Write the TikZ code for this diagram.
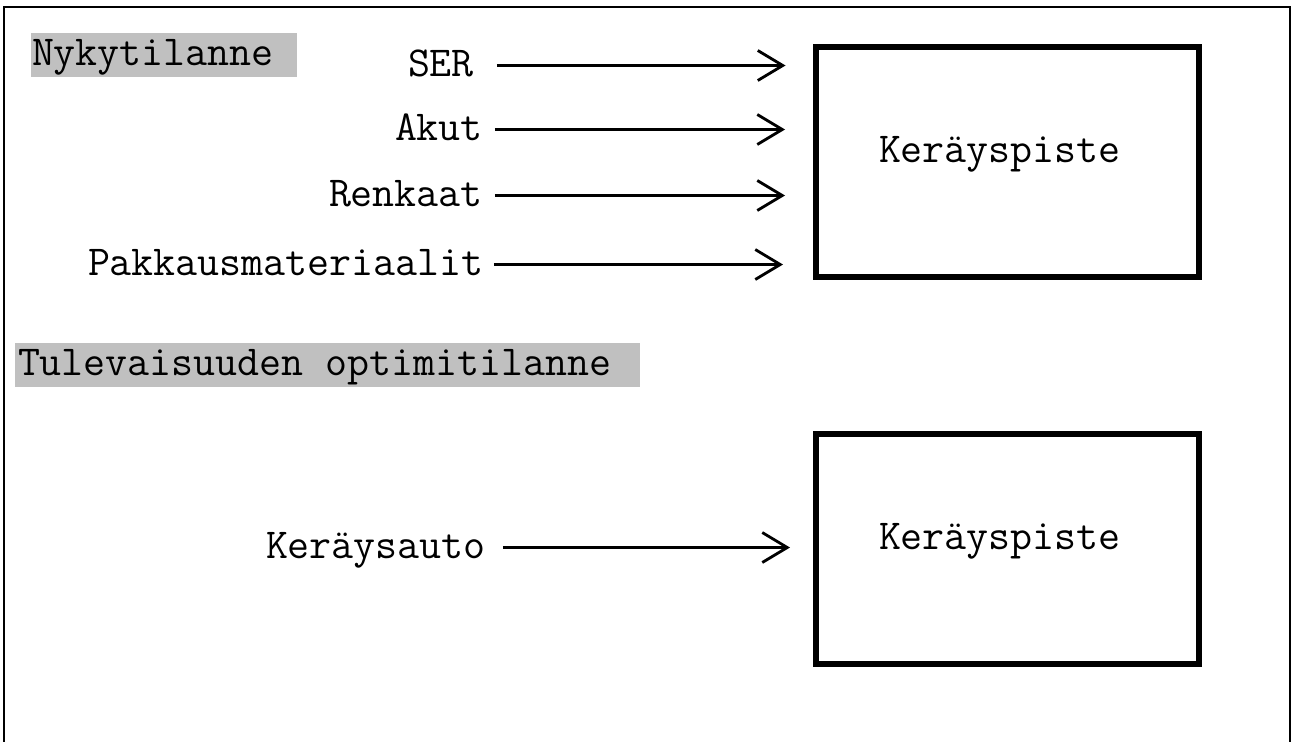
\documentclass[tikz,border=0pt]{standalone}
\usepackage{fontspec}
\usetikzlibrary{arrows.meta}
\definecolor{headgray}{RGB}{192,192,192}

\begin{document}
\begin{tikzpicture}[x=1pt,y=-1pt,
  every node/.style={font=\ttfamily\fontsize{42.7}{45}\selectfont, inner sep=0pt, outer sep=0pt},
  lbl/.style={anchor=base west, text height=21pt, text depth=0pt},
  head/.style={anchor=base west, fill=headgray, text height=32pt, text depth=12pt},
  flow/.style={line width=2.8pt, -{Straight Barb[length=25pt,width=30pt]}},
  stationbox/.style={draw, line width=6pt, minimum width=382.4pt, minimum height=230pt, anchor=north west},
]
\useasboundingbox (0,0) rectangle (1294,742);

% outer frame (open at the bottom edge of the page)
\draw[line width=1.5pt] (4,750) -- (4,7) -- (1290,7) -- (1290,750);

% section headings
\node[head] (nyky) at (31,65) {\makebox[266pt][l]{\hspace{1pt}Nykytilanne}};
\node[head] (tulev) at (15,375) {\makebox[625pt][l]{\hspace{3pt}Tulevaisuuden optimitilanne}};

% collection points
\node[stationbox] (box1) at (816.3,47) {};
\node[stationbox] (box2) at (816.3,434) {};
\node[anchor=base west] (kp1) at (879,162) {Keräyspiste};
\node[anchor=base west] (kp2) at (879,549) {Keräyspiste};

% incoming flows, current situation
\node[lbl] (ser) at (408,76) {SER};
\node[lbl] (akut) at (395,140) {Akut};
\node[lbl] (renk) at (329,206) {Renkaat};
\node[lbl] (pakk) at (88,275) {Pakkausmateriaalit};
\coordinate (serend) at (785.5,65.5);
\coordinate (akutend) at (785,129.5);
\coordinate (renkend) at (785,195.5);
\coordinate (pakkend) at (783,264.5);
\draw[flow] ([xshift=23pt]ser.east) -- (serend);
\draw[flow] ([xshift=12pt]akut.east) -- (akutend);
\draw[flow] ([xshift=12pt]renk.east) -- (renkend);
\draw[flow] ([xshift=10pt]pakk.east) -- (pakkend);

% incoming flow, future situation
\node[lbl] (auto) at (266,558) {Keräysauto};
\coordinate (autoend) at (790,547.5);
\draw[flow] ([xshift=17pt]auto.east) -- (autoend);
\end{tikzpicture}
\end{document}
